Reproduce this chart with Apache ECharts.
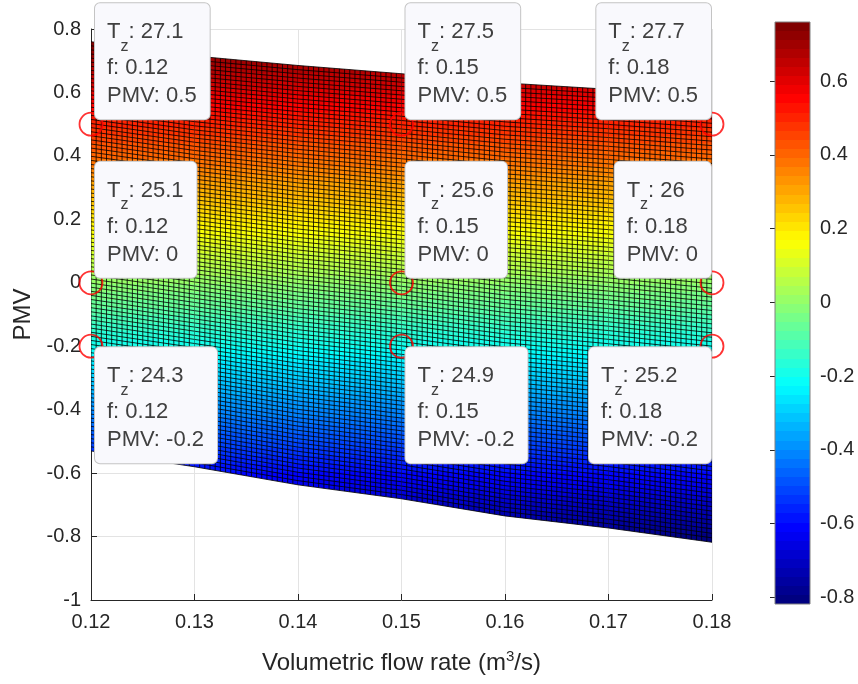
<!DOCTYPE html>
<html><head><meta charset="utf-8">
<script src="https://cdn.jsdelivr.net/npm/echarts@6/dist/echarts.min.js"></script>
<style>html,body{margin:0;padding:0;background:#fff}#c{width:858px;height:684px}</style>
</head><body><div id="c"></div>
<script>
// ---- data ----
const flowRate  = [0.12, 0.13, 0.14, 0.15, 0.16, 0.17, 0.18];      // m3/s
const pmvTop    = [0.76, 0.715, 0.685, 0.659, 0.630, 0.610, 0.587]; // surface upper edge (Tz = 28)
const pmvBottom = [-0.53, -0.58, -0.637, -0.681, -0.735, -0.773, -0.818]; // surface lower edge (Tz = 23)
const tipFlow = [0.12, 0.15, 0.18];
const tipPMV  = [0.5, 0, -0.2];
const tipTz   = [[27.1, 27.5, 27.7], [25.1, 25.6, 26], [24.3, 24.9, 25.2]];
const cbarTicks = [-0.8, -0.6, -0.4, -0.2, 0, 0.2, 0.4, 0.6];

// ---- styling helpers ----
const FONT = '"Liberation Sans", Arial, Helvetica, sans-serif';
const AX = '#262626';
const cMax = Math.max(...pmvTop), cMin = Math.min(...pmvBottom);
const MESH_ROWS = 100, MESH_COLS_PER_STRIP = 20;
function clamp(v){return Math.max(0, Math.min(1, v));}
function jet(t){
  const r = clamp(1.5 - Math.abs(4*t - 3)), g = clamp(1.5 - Math.abs(4*t - 2)), b = clamp(1.5 - Math.abs(4*t - 1));
  return 'rgb(' + Math.round(r*255) + ',' + Math.round(g*255) + ',' + Math.round(b*255) + ')';
}
const stops = [];
(function(){ const n = 64; for (let i = 0; i < n; i++){ const c = jet((n-1-i)/(n-1)); stops.push({offset:i/n, color:c}, {offset:(i+1)/n, color:c}); } })();

const surfData = flowRate.map((f, i) => [f, pmvTop[i], pmvBottom[i]]);
const tipData = [];
tipPMV.forEach((p, r) => tipFlow.forEach((f, c) => tipData.push([f, p, tipTz[r][c]])));

function renderSurface(params, api){
  const i = params.dataIndexInside;
  if (i >= params.dataInsideLength - 1) return null;
  const f0 = api.value(0, i), t0 = api.value(1, i), b0 = api.value(2, i);
  const f1 = api.value(0, i+1), t1 = api.value(1, i+1), b1 = api.value(2, i+1);
  const pT0 = api.coord([f0, t0]), pT1 = api.coord([f1, t1]);
  const pB0 = api.coord([f0, b0]), pB1 = api.coord([f1, b1]);
  const yTop = api.coord([f0, cMax])[1], yBot = api.coord([f0, cMin])[1];
  let d = '';
  for (let k = (i === 0 ? 0 : 1); k <= MESH_COLS_PER_STRIP; k++){
    const s = k / MESH_COLS_PER_STRIP;
    const x = pT0[0] + s*(pT1[0]-pT0[0]);
    const yt = pT0[1] + s*(pT1[1]-pT0[1]);
    const yb = pB0[1] + s*(pB1[1]-pB0[1]);
    d += 'M' + x.toFixed(2) + ' ' + yt.toFixed(2) + 'L' + x.toFixed(2) + ' ' + yb.toFixed(2);
  }
  for (let r = 0; r <= MESH_ROWS; r++){
    const s = r / MESH_ROWS;
    const yl = pB0[1] + s*(pT0[1]-pB0[1]);
    const yr = pB1[1] + s*(pT1[1]-pB1[1]);
    d += 'M' + pT0[0].toFixed(2) + ' ' + yl.toFixed(2) + 'L' + pT1[0].toFixed(2) + ' ' + yr.toFixed(2);
  }
  return {type:'group', children:[
    {type:'polygon', shape:{points:[pT0, pT1, pB1, pB0]},
     style:{fill:{type:'linear', x:0, y:yTop, x2:0, y2:yBot, global:true, colorStops:stops}, stroke:null}},
    {type:'path', shape:{pathData:d}, style:{stroke:'#000', fill:'none', lineWidth:1, opacity:0.8}}
  ]};
}

function renderTip(params, api){
  const f = api.value(0), p = api.value(1), tz = api.value(2);
  const pt = api.coord([f, p]);
  const isRight = f === Math.max(...tipFlow);
  const below = p < 0;
  return {type:'text', x: isRight ? pt[0]-1 : pt[0]+4, y: below ? pt[1]+1 : pt[1]-5, z2: 10,
    style:{
      text: '{t|T}{s|z}{t|: ' + tz + '}\n{n|f: ' + f + '}\n{n|PMV: ' + p + '}',
      rich:{
        t:{fontSize:22, lineHeight:44, align:'left', fontFamily:FONT, fill:'#404040'},
        s:{fontSize:16, lineHeight:22, verticalAlign:'bottom', align:'left', fontFamily:FONT, fill:'#404040'},
        n:{fontSize:22, lineHeight:28, align:'left', fontFamily:FONT, fill:'#404040'}
      },
      fontFamily:FONT, fontSize:22, fill:'#404040',
      align: isRight ? 'right' : 'left', verticalAlign: below ? 'top' : 'bottom',
      backgroundColor:'#f9f9fd', borderColor:'#c4c4c4', borderWidth:1, borderRadius:5,
      padding:[7, 13, 9, 12]
    }};
}

function renderCbar(params, api){
  const cs = params.coordSys;
  return {type:'rect', shape:{x:cs.x, y:cs.y, width:cs.width, height:cs.height},
    style:{fill:{type:'linear', x:0, y:0, x2:0, y2:1, colorStops:stops}, stroke:'#808080', lineWidth:1}};
}

const chart = echarts.init(document.getElementById('c'), null, {renderer:'canvas'});
chart.setOption({
  animation:false,
  backgroundColor:'#ffffff',
  textStyle:{fontFamily:FONT},
  grid:[
    {left:91, top:29, width:621, height:571, containLabel:false},
    {left:775, top:22, width:35, height:582, containLabel:false}
  ],
  xAxis:[
    {type:'value', gridIndex:0, min:0.12, max:0.18, interval:0.01,
     name:'Volumetric flow rate (m{sup|3}/s)', nameLocation:'middle', nameGap:49,
     nameTextStyle:{fontSize:24, color:AX, fontFamily:FONT, lineHeight:28,
       rich:{sup:{fontSize:15, lineHeight:12, verticalAlign:'top', color:AX, fontFamily:FONT}}},
     axisLine:{onZero:false, lineStyle:{color:AX, width:1}},
     axisTick:{inside:true, length:6, lineStyle:{color:AX}},
     axisLabel:{fontSize:20, color:AX, margin:12, formatter:v => v.toFixed(2)},
     splitLine:{show:true, lineStyle:{color:'#e3e3e3', width:1}}},
    {type:'value', gridIndex:1, min:0, max:1, show:false}
  ],
  yAxis:[
    {type:'value', gridIndex:0, min:-1, max:0.8, interval:0.2,
     name:'PMV', nameLocation:'middle', nameGap:54, nameRotate:90,
     nameTextStyle:{fontSize:24, color:AX, fontFamily:FONT},
     axisLine:{onZero:false, lineStyle:{color:AX, width:1}},
     axisTick:{inside:true, length:6, lineStyle:{color:AX}},
     axisLabel:{fontSize:20, color:AX, margin:10, formatter:v => String(Number(v.toFixed(1)))},
     splitLine:{show:true, lineStyle:{color:'#e3e3e3', width:1}}},
    {type:'value', gridIndex:1, min:cMin, max:cMax, position:'right',
     axisLine:{show:false},
     axisTick:{show:true, inside:true, length:5, lineStyle:{color:AX}, customValues:cbarTicks},
     axisLabel:{show:true, fontSize:20, color:AX, margin:10, customValues:cbarTicks,
       formatter:v => String(Number(v.toFixed(1)))},
     splitLine:{show:false}}
  ],
  series:[
    {type:'custom', xAxisIndex:0, yAxisIndex:0, data:surfData, renderItem:renderSurface, z:2, clip:true, silent:true},
    {type:'scatter', xAxisIndex:0, yAxisIndex:0, data:tipData.map(d => [d[0], d[1]]), symbol:'circle', symbolSize:23,
     itemStyle:{color:'rgba(0,0,0,0)', borderColor:'#ff0000', borderWidth:1.8}, z:3, clip:false, silent:true},
    {type:'custom', xAxisIndex:0, yAxisIndex:0, data:tipData, renderItem:renderTip, z:5, clip:false, silent:true},
    {type:'custom', xAxisIndex:1, yAxisIndex:1, data:[[0.5, 0]], renderItem:renderCbar, z:2, silent:true}
  ]
});
</script></body></html>
